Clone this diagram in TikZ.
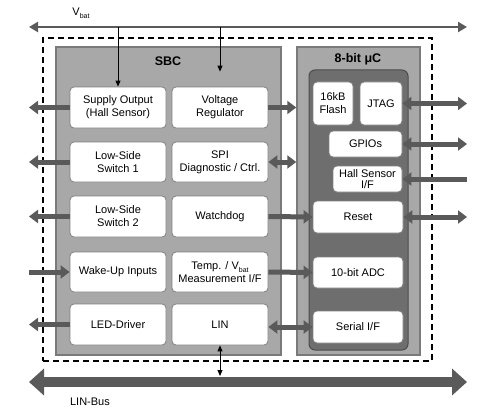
\documentclass[tikz,border=0pt]{standalone}
\usepackage{fontspec}
\setmainfont{Liberation Sans}
\usetikzlibrary{arrows.meta,calc}
\definecolor{arrowgray}{HTML}{5A5A5A}
\definecolor{boxgray}{HTML}{A8A8A8}
\definecolor{boxedge}{HTML}{7A7A7A}
\definecolor{innergray}{HTML}{6E6E6E}
\begin{document}
\begin{tikzpicture}[x=1pt,y=-1pt,
  blk/.style={draw=black!50, fill=white, rounded corners=4pt, line width=0.8pt,
    align=center, font=\fontsize{11}{13}\selectfont, inner sep=0pt},
  container/.style={draw=boxedge, fill=boxgray, line width=1.5pt, inner sep=0pt},
  title/.style={font=\bfseries\fontsize{12.5}{14}\selectfont},
  lbl/.style={font=\fontsize{11}{13}\selectfont},
  barrow/.style={line width=5pt, draw=arrowgray, -{Triangle[length=9pt,width=13pt]}},
  bdarrow/.style={line width=5pt, draw=arrowgray, {Triangle[length=9pt,width=13pt]}-{Triangle[length=9pt,width=13pt]}},
  thinarrow/.style={line width=0.9pt, draw=black, -{Triangle[length=6pt,width=5pt]}},
  thindarrow/.style={line width=0.9pt, draw=black, {Triangle[length=6pt,width=5pt]}-{Triangle[length=6pt,width=5pt]}}
]
\fill[white] (0,0) rectangle (498,412);
\useasboundingbox (0,0) rectangle (498,412);

% dashed enclosure
\node[draw=black, line width=1.5pt, dash pattern=on 6pt off 4pt, minimum width=389pt, minimum height=323pt, inner sep=0pt] (enc) at (237.5,199.5) {};

% containers
\node[container, minimum width=225pt, minimum height=308pt] (sbc) at (168.5,201) {};
\node[container, minimum width=123pt, minimum height=308pt] (uc) at (358.5,201) {};
\node[draw=black!70, fill=innergray, rounded corners=6pt, line width=1pt, minimum width=99pt, minimum height=280pt, inner sep=0pt] (core) at (358.5,210) {};

\node[title] (sbct) at (168,61) {SBC};
\node[title] (uct) at (358,59) {8-bit μC};

% SBC blocks
\node[blk, minimum width=96pt, minimum height=41pt] (sup) at (118,107.5) {Supply Output\\(Hall Sensor)};
\node[blk, minimum width=96pt, minimum height=41pt] (vreg) at (220,107.5) {Voltage\\Regulator};
\node[blk, minimum width=96pt, minimum height=40pt] (ls1) at (118,162) {Low-Side\\Switch 1};
\node[blk, minimum width=96pt, minimum height=40pt] (spi) at (220,162) {SPI\\Diagnostic / Ctrl.};
\node[blk, minimum width=96pt, minimum height=41pt] (ls2) at (118,216.5) {Low-Side\\Switch 2};
\node[blk, minimum width=96pt, minimum height=41pt] (wd) at (220,216.5) {Watchdog};
\node[blk, minimum width=96pt, minimum height=40pt] (wake) at (118,272) {Wake-Up Inputs};
\node[blk, minimum width=96pt, minimum height=40pt] (temp) at (220,272) {Temp. / V\raisebox{-0.45ex}{\fontsize{7}{8}\selectfont bat}\\Measurement I/F};
\node[blk, minimum width=96pt, minimum height=41pt] (led) at (118,324.5) {LED-Driver};
\node[blk, minimum width=96pt, minimum height=41pt] (lin) at (220,324.5) {LIN};

% uC blocks
\node[blk, minimum width=40pt, minimum height=43pt] (flash) at (333,103.5) {16kB\\Flash};
\node[blk, minimum width=42pt, minimum height=43pt] (jtag) at (381,103.5) {JTAG};
\node[blk, minimum width=73pt, minimum height=26pt] (gpio) at (365.5,144) {GPIOs};
\node[blk, minimum width=69pt, minimum height=26pt, font=\fontsize{11}{11.5}\selectfont] (hall) at (367.5,179) {Hall Sensor\\I/F};
\node[blk, minimum width=90pt, minimum height=32pt] (reset) at (358,217) {Reset};
\node[blk, minimum width=90pt, minimum height=31pt] (adc) at (358,272.5) {10-bit ADC};
\node[blk, minimum width=90pt, minimum height=32pt] (serial) at (358,327) {Serial I/F};

% reference coordinates
\coordinate (lx) at (29,0);
\coordinate (rx) at (467,0);
\coordinate (vbl) at (29,27);
\coordinate (vbr) at (467,27);
\coordinate (busl) at (29,382);
\coordinate (busr) at (467,382);
\coordinate (bustop) at (220,376);

% Vbat line
\draw[line width=2.5pt, draw=arrowgray, {Triangle[length=9pt,width=10pt]}-{Triangle[length=9pt,width=10pt]}] (vbl) -- (vbr);
\node[lbl] (vbat) at (81,13) {V\raisebox{-0.45ex}{\fontsize{7}{8}\selectfont bat}};
\draw[thinarrow] (sup.north |- vbl) -- (sup.north);
\draw[thinarrow] (vreg.north |- vbl) -- ($(vreg.north)+(0,-15)$);

% LIN bus
\draw[line width=10pt, draw=arrowgray, {Triangle[length=15pt,width=26pt]}-{Triangle[length=15pt,width=26pt]}] (busl) -- (busr);
\node[lbl] (linbus) at (90,402) {LIN-Bus};
\draw[thindarrow] (lin.south) -- (lin.south |- bustop);

% left arrows
\draw[barrow] (sup.west) -- (sup.west -| lx);
\draw[barrow] (ls1.west) -- (ls1.west -| lx);
\draw[barrow] (ls2.west) -- (ls2.west -| lx);
\draw[barrow] (wake.west -| lx) -- (wake.west);
\draw[barrow] (led.west) -- (led.west -| lx);

% middle arrows
\draw[barrow] (vreg.east) -- (vreg.east -| uc.west);
\draw[bdarrow] (spi.east) -- (spi.east -| uc.west);
\draw[barrow] (wd.east) -- (reset.west);
\draw[barrow] (temp.east) -- (adc.west);
\draw[bdarrow] (lin.east |- serial.west) -- (serial.west);

% right arrows
\draw[bdarrow] (jtag.east) -- (jtag.east -| rx);
\draw[bdarrow] (gpio.east) -- (gpio.east -| rx);
\draw[barrow] (hall.east -| rx) -- (hall.east);
\draw[bdarrow] (reset.east) -- (reset.east -| rx);
\end{tikzpicture}
\end{document}
